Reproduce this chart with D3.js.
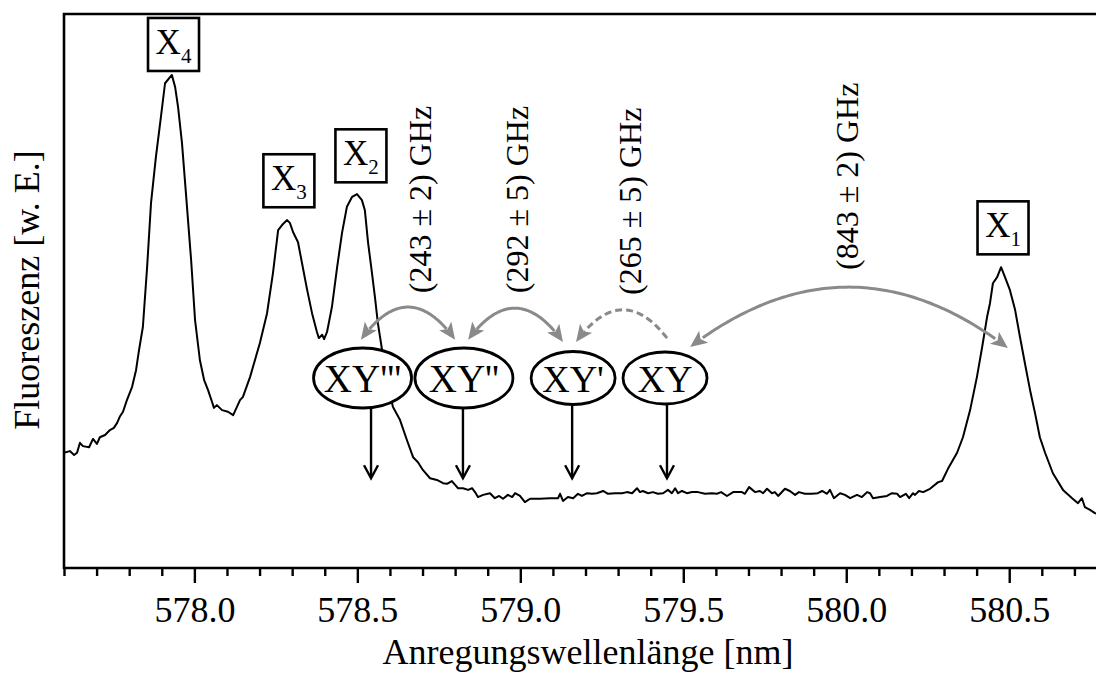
<!DOCTYPE html>
<html>
<head>
<meta charset="utf-8">
<script src="https://cdn.jsdelivr.net/npm/d3@7"></script>
<style>
  html, body { margin: 0; padding: 0; background: #fff; }
  svg { display: block; }
  text { font-family: "Liberation Serif", "Times New Roman", "DejaVu Serif", serif; fill: #000; }
</style>
</head>
<body>
<svg id="chart" width="1096" height="675"></svg>
<script>
// Fluorescence excitation spectrum: [wavelength (nm), intensity (a.u.)]
const spectrum = [
  [577.600, 208], [577.618, 211], [577.631, 204], [577.640, 208], [577.649, 226],
  [577.658, 220], [577.677, 218], [577.689, 233], [577.701, 224], [577.710, 236],
  [577.726, 240], [577.741, 249], [577.753, 253], [577.763, 262], [577.772, 274],
  [577.781, 282], [577.793, 303], [577.809, 327], [577.821, 357], [577.830, 393],
  [577.842, 435], [577.855, 543], [577.867, 659], [577.882, 742], [577.895, 803],
  [577.910, 875], [577.931, 890], [577.941, 868], [577.950, 832], [577.962, 767],
  [577.974, 677], [577.990, 556], [578.002, 448], [578.017, 375], [578.030, 339],
  [578.042, 321], [578.054, 300], [578.060, 289], [578.069, 294], [578.085, 285],
  [578.103, 282], [578.119, 276], [578.140, 303], [578.149, 309], [578.171, 345],
  [578.201, 406], [578.223, 460], [578.241, 532], [578.257, 610], [578.269, 619],
  [578.284, 628], [578.293, 623], [578.303, 606], [578.318, 588], [578.330, 551],
  [578.346, 502], [578.361, 460], [578.376, 426], [578.382, 415], [578.392, 421],
  [578.398, 413], [578.407, 426], [578.422, 471], [578.438, 543], [578.453, 605],
  [578.468, 652], [578.484, 670], [578.499, 675], [578.514, 664], [578.523, 646],
  [578.533, 587], [578.545, 532], [578.554, 489], [578.563, 442], [578.576, 393],
  [578.585, 352], [578.600, 316], [578.609, 291], [578.631, 267], [578.652, 231],
  [578.671, 200], [578.686, 191], [578.701, 177], [578.723, 162], [578.744, 159],
  [578.763, 153], [578.775, 152], [578.790, 157], [578.800, 150], [578.809, 144],
  [578.824, 144], [578.840, 141], [578.852, 144], [578.861, 137], [578.870, 128],
  [578.886, 132], [578.907, 135], [578.922, 126], [578.935, 130], [578.947, 125],
  [578.962, 132], [578.975, 128], [578.984, 135], [578.999, 130], [579.014, 119],
  [579.030, 125], [579.060, 125], [579.091, 126], [579.116, 126], [579.122, 134],
  [579.131, 121], [579.146, 128], [579.162, 126], [579.177, 134], [579.189, 130],
  [579.205, 135], [579.220, 134], [579.235, 135], [579.254, 139], [579.269, 134],
  [579.291, 135], [579.312, 135], [579.327, 137], [579.343, 135], [579.358, 144],
  [579.367, 137], [579.376, 139], [579.392, 135], [579.407, 137], [579.422, 134],
  [579.438, 135], [579.453, 141], [579.465, 135], [579.475, 144], [579.484, 135],
  [579.496, 139], [579.511, 135], [579.527, 137], [579.545, 137], [579.567, 134],
  [579.588, 135], [579.603, 134], [579.616, 137], [579.634, 130], [579.653, 137],
  [579.680, 137], [579.689, 134], [579.702, 146], [579.720, 137], [579.735, 139],
  [579.745, 135], [579.757, 143], [579.772, 135], [579.781, 137], [579.791, 130],
  [579.812, 143], [579.827, 139], [579.843, 132], [579.855, 137], [579.873, 134],
  [579.895, 134], [579.913, 135], [579.926, 139], [579.941, 134], [579.950, 141],
  [579.962, 126], [579.981, 135], [579.996, 132], [580.012, 126], [580.033, 132],
  [580.048, 128], [580.064, 137], [580.073, 135], [580.082, 126], [580.104, 128],
  [580.125, 130], [580.140, 135], [580.156, 134], [580.165, 128], [580.183, 134],
  [580.193, 126], [580.205, 135], [580.211, 132], [580.223, 139], [580.236, 137],
  [580.257, 143], [580.282, 155], [580.294, 157], [580.312, 179], [580.340, 208],
  [580.358, 236], [580.380, 285], [580.401, 345], [580.417, 399], [580.432, 453],
  [580.441, 478], [580.450, 514], [580.463, 525], [580.475, 543], [580.487, 525],
  [580.502, 502], [580.518, 466], [580.533, 417], [580.548, 370], [580.564, 321],
  [580.579, 280], [580.594, 236], [580.610, 208], [580.634, 171], [580.665, 141],
  [580.693, 126], [580.711, 117], [580.723, 126], [580.732, 110], [580.748, 105],
  [580.763, 99], [580.779, 96]
];

// Exciton peaks X1..X4
const peakNames = ["X", "X", "X", "X"];
const peakSubs = ["4", "3", "2", "1"];
const peakWavelength = [577.936, 578.290, 578.511, 580.481];
const peakLabelLevel = [945, 699, 744, 614];

// Biexciton transitions
const xyLabels = ["XY'''", "XY''", "XY'", "XY"];
const xyWavelength = [578.542, 578.824, 579.159, 579.450];

// Splittings between neighbouring transitions
const splitLabels = ["(243 ± 2) GHz", "(292 ± 5) GHz", "(265 ± 5) GHz", "(843 ± 2) GHz"];

const majorTicks = [578.0, 578.5, 579.0, 579.5, 580.0, 580.5];

// ---------- layout ----------
const margin = { left: 64, top: 14, bottom: 568 };
const plotRight = 1107;
const x = d3.scaleLinear().domain([577.6, 580.8]).range([margin.left, plotRight]);
const y = d3.scaleLinear().domain([0, 1000]).range([margin.bottom, margin.top]);

const svg = d3.select("#chart");
const GRAY = "#8a8a8a";

svg.append("defs").append("clipPath").attr("id", "plotClip")
  .append("rect")
  .attr("x", margin.left).attr("y", margin.top)
  .attr("width", plotRight - margin.left).attr("height", margin.bottom - margin.top);

// spectrum line
const line = d3.line().x(d => x(d[0])).y(d => y(d[1]));
svg.append("path")
  .datum(spectrum)
  .attr("clip-path", "url(#plotClip)")
  .attr("d", line)
  .attr("fill", "none")
  .attr("stroke", "#000")
  .attr("stroke-width", 2)
  .attr("stroke-linejoin", "round");

// frame (left, top, bottom)
svg.append("path")
  .attr("d", `M${plotRight + 2},${margin.top} H${margin.left} V${margin.bottom} H${plotRight + 2}`)
  .attr("fill", "none").attr("stroke", "#000").attr("stroke-width", 2.6)
  .attr("stroke-linejoin", "miter");

// x axis: minor and major ticks
const minorTicks = x.ticks(32).filter(t => !majorTicks.some(m => Math.abs(m - t) < 1e-6));
const minorAxis = d3.axisBottom(x).tickValues(minorTicks).tickSize(8).tickFormat("");
const majorAxis = d3.axisBottom(x).tickValues(majorTicks).tickSize(15).tickPadding(13)
  .tickFormat(d3.format(".1f"));

const gMinor = svg.append("g").attr("transform", `translate(0,${margin.bottom})`).call(minorAxis);
const gMajor = svg.append("g").attr("transform", `translate(0,${margin.bottom})`).call(majorAxis);
[gMinor, gMajor].forEach(g => {
  g.select(".domain").remove();
  g.selectAll(".tick line").attr("stroke", "#000").attr("stroke-width", 2.4);
});
gMajor.selectAll(".tick text")
  .attr("font-family", "Liberation Serif, Times New Roman, serif")
  .attr("font-size", 36).attr("fill", "#000");

// axis titles
svg.append("text")
  .attr("x", 588).attr("y", 664)
  .attr("text-anchor", "middle").attr("font-size", 36)
  .text("Anregungswellenlänge [nm]");
svg.append("text")
  .attr("transform", "translate(39,290) rotate(-90)")
  .attr("text-anchor", "middle").attr("font-size", 36)
  .text("Fluoreszenz [w. E.]");

// peak label boxes
const boxW = 51, boxH = 53;
peakWavelength.forEach((wl, i) => {
  const cx = x(wl), cy = y(peakLabelLevel[i]);
  const g = svg.append("g");
  g.append("rect")
    .attr("x", cx - boxW / 2).attr("y", cy - boxH / 2)
    .attr("width", boxW).attr("height", boxH)
    .attr("fill", "#fff").attr("stroke", "#000").attr("stroke-width", 2.6);
  const t = g.append("text")
    .attr("x", cx).attr("y", cy - boxH / 2 + 36)
    .attr("text-anchor", "middle");
  t.append("tspan").attr("font-size", 35).text(peakNames[i]);
  t.append("tspan").attr("font-size", 21).attr("dy", 9).text(peakSubs[i]);
});

// curved gray arrows between transitions (quadratic curves, data coordinates)
const arcs = [
  { from: [578.511, 412], to: [578.800, 412], apex: 471, headStart: true, headEnd: true, dashed: false },
  { from: [578.840, 412], to: [579.131, 408], apex: 469, headStart: true, headEnd: true, dashed: false },
  { from: [579.450, 415], to: [579.171, 408], apex: 466, headStart: false, headEnd: true, dashed: true },
  { from: [579.521, 399], to: [580.496, 397], apex: 507, headStart: true, headEnd: true, dashed: false }
];
const headLen = 17, headHalf = 7.5;

function arrowHead(tip, ctrl) {
  const dx = tip[0] - ctrl[0], dy = tip[1] - ctrl[1];
  const L = Math.hypot(dx, dy);
  const ux = dx / L, uy = dy / L, nx = -uy, ny = ux;
  const bx = tip[0] - ux * headLen, by = tip[1] - uy * headLen;
  const notch = [tip[0] - ux * (headLen - 4), tip[1] - uy * (headLen - 4)];
  return `M${tip[0]},${tip[1]} L${bx + nx * headHalf},${by + ny * headHalf} L${notch[0]},${notch[1]} L${bx - nx * headHalf},${by - ny * headHalf} Z`;
}

arcs.forEach(a => {
  const p0 = [x(a.from[0]), y(a.from[1])];
  const p2 = [x(a.to[0]), y(a.to[1])];
  const apexY = y(a.apex);
  const c = [(p0[0] + p2[0]) / 2, 2 * apexY - (p0[1] + p2[1]) / 2];
  const pts = d3.range(0, 1.0001, 0.01).map(t => [
    (1 - t) * (1 - t) * p0[0] + 2 * (1 - t) * t * c[0] + t * t * p2[0],
    (1 - t) * (1 - t) * p0[1] + 2 * (1 - t) * t * c[1] + t * t * p2[1]
  ]).filter(p => {
    if (a.headStart && Math.hypot(p[0] - p0[0], p[1] - p0[1]) < headLen - 4) return false;
    if (a.headEnd && Math.hypot(p[0] - p2[0], p[1] - p2[1]) < headLen - 4) return false;
    return true;
  });
  svg.append("path")
    .attr("d", d3.line()(pts))
    .attr("fill", "none").attr("stroke", GRAY).attr("stroke-width", 3)
    .attr("stroke-dasharray", a.dashed ? "7,4" : null);
  if (a.headStart) svg.append("path").attr("d", arrowHead(p0, c)).attr("fill", GRAY);
  if (a.headEnd) svg.append("path").attr("d", arrowHead(p2, c)).attr("fill", GRAY);
});

// rotated splitting labels
const splitBaseWl = [578.726, 579.024, 579.370, 580.036];
const splitBottom = [496, 496, 493, 538];
splitLabels.forEach((s, i) => {
  svg.append("text")
    .attr("transform", `translate(${x(splitBaseWl[i])},${y(splitBottom[i])}) rotate(-90)`)
    .attr("font-size", 32)
    .text(s);
});

// XY ellipses and downward arrows
const ellipseWl = [578.516, 578.827, 579.162, 579.444];
const ellipseLevel = 343;
const ellipseRx = [49, 49, 42, 42];
const ellipseRy = [30, 30, 26.5, 26];
const arrowTipLevel = 162;

xyLabels.forEach((lab, i) => {
  const cx = x(ellipseWl[i]), cy = y(ellipseLevel);
  const ax = x(xyWavelength[i]);
  const top = cy + ellipseRy[i] - 1, tip = y(arrowTipLevel);
  svg.append("line")
    .attr("x1", ax).attr("x2", ax).attr("y1", top).attr("y2", tip - 1)
    .attr("stroke", "#000").attr("stroke-width", 2.4);
  svg.append("path")
    .attr("d", `M${ax - 7},${tip - 13} L${ax},${tip} L${ax + 7},${tip - 13}`)
    .attr("fill", "none").attr("stroke", "#000").attr("stroke-width", 2.4)
    .attr("stroke-linejoin", "miter");
  svg.append("ellipse")
    .attr("cx", cx).attr("cy", cy).attr("rx", ellipseRx[i]).attr("ry", ellipseRy[i])
    .attr("fill", "#fff").attr("stroke", "#000").attr("stroke-width", 2.8);
  svg.append("text")
    .attr("x", cx).attr("y", cy + 14)
    .attr("text-anchor", "middle").attr("font-size", i < 2 ? 39 : 38)
    .text(lab);
});
</script>
</body>
</html>
